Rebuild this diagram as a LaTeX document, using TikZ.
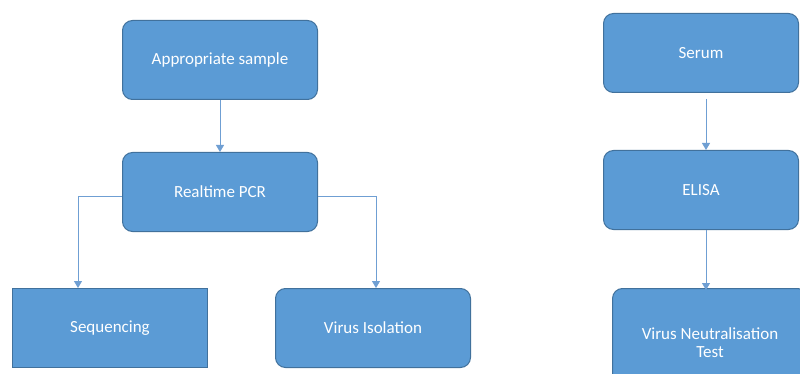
\documentclass[tikz,border=0pt]{standalone}
\usepackage{fontspec}
\setmainfont{Carlito}
\usetikzlibrary{arrows.meta,calc}
\definecolor{boxfill}{HTML}{5B9BD5}
\definecolor{boxline}{HTML}{41719C}
\definecolor{linkc}{HTML}{6F9FD3}
\tikzset{
  rbox/.style={draw=boxline, line width=1pt, fill=boxfill, rounded corners=10pt,
    minimum width=195pt, minimum height=79pt, inner sep=0pt, text=white,
    font=\fontsize{17}{18}\selectfont, align=center, anchor=north west},
  sbox/.style={rbox, rounded corners=0pt},
  link/.style={draw=linkc, line width=0.9pt, -{Triangle[width=8pt,length=7pt]}}
}
\begin{document}
\begin{tikzpicture}[x=1pt,y=1pt]
\useasboundingbox (0,0) rectangle (800,-374);
\clip (0,0) rectangle (800,-374);
\fill[white] (0,0) rectangle (800,-374);
\node[rbox] (samp) at (122,-20) {Appropriate sample};
\node[rbox] (pcr) at (122,-152) {Realtime PCR};
\node[sbox] (seq) at (12,-288) {Sequencing};
\node[rbox] (iso) at (275,-288) {Virus Isolation};
\node[rbox] (serum) at (603,-13) {Serum};
\node[rbox] (elisa) at (603,-150) {ELISA};
\node[rbox, minimum height=108pt] (vnt) at (612,-288) {Virus Neutralisation\\Test};
\coordinate (lc) at (78,-196);
\coordinate (rc) at (376,-196);
\coordinate (sa) at ($(serum.south)+(5,-6)$);
\coordinate (ea) at ($(elisa.south)+(5,0)$);
\draw[link] (samp.south) -- (pcr.north);
\draw[link] (pcr.west |- lc) -- (lc) -- (lc |- seq.north);
\draw[link] (pcr.east |- rc) -- (rc) -- (rc |- iso.north);
\draw[link] (sa) -- (sa |- elisa.north);
\draw[link] (ea) -- ($(ea |- vnt.north)+(0,-2)$);
\end{tikzpicture}
\end{document}
